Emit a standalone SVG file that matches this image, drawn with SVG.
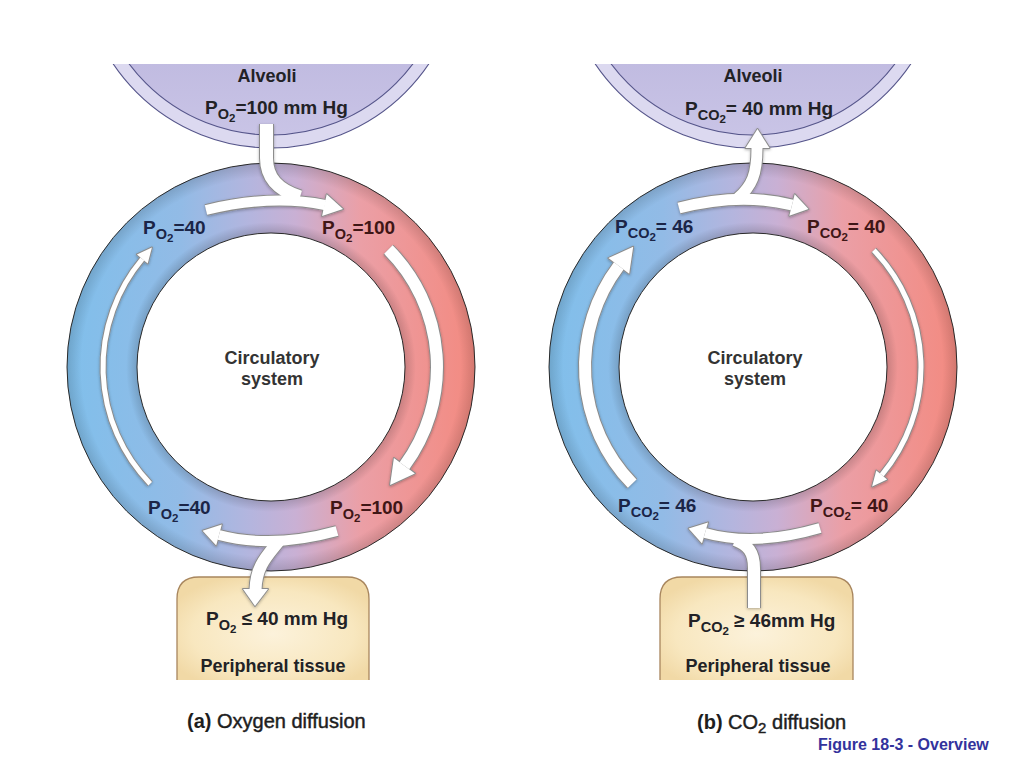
<svg xmlns="http://www.w3.org/2000/svg" xmlns:xlink="http://www.w3.org/1999/xlink" width="1024" height="768" viewBox="0 0 1024 768">
<defs>
<style>
text{font-family:"Liberation Sans",Arial,Helvetica,sans-serif;font-weight:bold;font-size:18px}
.lbl{font-size:19px}
.s1{font-size:14.5px}
.s2{font-size:11.5px}
.blue{fill:#1b2547}
.red{fill:#3f1616}
.dark{fill:#222226}
.mid{fill:#333333;text-anchor:middle}
.ring{fill:url(#ringGrad);stroke:#2e2e2e;stroke-width:1;fill-rule:evenodd}
.shade{fill:url(#ringShade);fill-rule:evenodd}
.alvOut{fill:#dcd9f0;stroke:#55558a;stroke-width:1.1}
.alvIn{fill:url(#alvGrad);stroke:#55558a;stroke-width:1.1}
.tissue{fill:url(#tisGrad)}
.tisEdge{fill:none;stroke:#a8865e;stroke-width:1.3}
.ol{fill:none;stroke:#8c8c8c;stroke-linecap:butt;stroke-linejoin:round}
.olh{fill:#8c8c8c;stroke:#8c8c8c;stroke-width:2;stroke-linejoin:round}
.wb{fill:none;stroke:#ffffff;stroke-linecap:butt;stroke-linejoin:round}
.wh{fill:#ffffff;stroke:none}
.cap{fill:#1e1e1e;font-size:20px}
.capn{font-weight:normal;stroke:#1e1e1e;stroke-width:0.45}
.fig{fill:#33339c;font-size:16px}
</style>
<linearGradient id="ringGrad" x1="0" y1="0" x2="1" y2="0">
<stop offset="0" stop-color="#80bfeb"/>
<stop offset="0.28" stop-color="#92bbe6"/>
<stop offset="0.45" stop-color="#b4b5de"/>
<stop offset="0.56" stop-color="#c9b0d4"/>
<stop offset="0.72" stop-color="#eb9fa6"/>
<stop offset="1" stop-color="#f38a80"/>
</linearGradient>
<radialGradient id="ringShade" cx="0.5" cy="0.5" r="0.5">
<stop offset="0.655" stop-color="#000" stop-opacity="0.16"/>
<stop offset="0.71" stop-color="#000" stop-opacity="0"/>
<stop offset="0.93" stop-color="#000" stop-opacity="0"/>
<stop offset="1" stop-color="#000" stop-opacity="0.14"/>
</radialGradient>
<linearGradient id="alvGrad" x1="0" y1="0" x2="0" y2="1">
<stop offset="0.6" stop-color="#b9b3dc"/>
<stop offset="1" stop-color="#c9c4e6"/>
</linearGradient>
<radialGradient id="tisGrad" cx="0.5" cy="0.55" r="0.6">
<stop offset="0" stop-color="#fcf2db"/>
<stop offset="0.7" stop-color="#f8e7bf"/>
<stop offset="1" stop-color="#f1d9a6"/>
</radialGradient>
<clipPath id="topClip"><rect x="0" y="64" width="1024" height="704"/></clipPath>
<filter id="shadow" x="-20%" y="-20%" width="140%" height="140%">
<feDropShadow dx="0" dy="1" stdDeviation="1.5" flood-color="#000" flood-opacity="0.3"/>
</filter>
</defs>
<rect x="0" y="0" width="1024" height="768" fill="#ffffff"/>

<!-- Diagram (a) -->
<g id="alveoli-a" clip-path="url(#topClip)">
<circle class="alvOut" cx="271" cy="-42" r="190"/>
<circle class="alvIn" cx="271" cy="-42" r="177"/>
<text class="dark" x="267" y="82" text-anchor="middle">Alveoli</text>
<text class="dark lbl" x="205" y="114">P<tspan class="s1" dy="5">O</tspan><tspan class="s2" dy="3">2</tspan><tspan dy="-8">=100 mm Hg</tspan></text>
</g>

<g id="ring-a">
<path class="ring" d="M67,367 A204,204 0 1 0 475,367 A204,204 0 1 0 67,367 Z M137,367 A134,134 0 1 0 405,367 A134,134 0 1 0 137,367 Z"/>
<path class="shade" d="M67,367 A204,204 0 1 0 475,367 A204,204 0 1 0 67,367 Z M137,367 A134,134 0 1 0 405,367 A134,134 0 1 0 137,367 Z"/>
<text class="mid" x="272" y="364">Circulatory</text>
<text class="mid" x="272" y="385">system</text>
<text class="blue lbl" x="143" y="234">P<tspan class="s1" dy="5">O</tspan><tspan class="s2" dy="3">2</tspan><tspan dy="-8">=40</tspan></text>
<text class="red lbl" x="322" y="234">P<tspan class="s1" dy="5">O</tspan><tspan class="s2" dy="3">2</tspan><tspan dy="-8">=100</tspan></text>
<text class="blue lbl" x="148" y="514">P<tspan class="s1" dy="5">O</tspan><tspan class="s2" dy="3">2</tspan><tspan dy="-8">=40</tspan></text>
<text class="red lbl" x="330" y="514">P<tspan class="s1" dy="5">O</tspan><tspan class="s2" dy="3">2</tspan><tspan dy="-8">=100</tspan></text>
</g>

<g id="tissue-a">
<path class="tissue" d="M177,680 L177,599 Q177,577 199,577 L347,577 Q369,577 369,599 L369,680 Z"/>
<path class="tisEdge" d="M177,680 L177,599 Q177,577 199,577 L347,577 Q369,577 369,599 L369,680"/>
<text class="dark lbl" x="206" y="625">P<tspan class="s1" dy="5">O</tspan><tspan class="s2" dy="3">2</tspan><tspan dy="-8"> ≤ 40 mm Hg</tspan></text>
<text class="dark" x="273" y="672" text-anchor="middle">Peripheral tissue</text>
</g>

<!-- Diagram (b) -->
<g id="alveoli-b" clip-path="url(#topClip)">
<circle class="alvOut" cx="753" cy="-42" r="190"/>
<circle class="alvIn" cx="753" cy="-42" r="177"/>
<text class="dark" x="753" y="82" text-anchor="middle">Alveoli</text>
<text class="dark lbl" x="685" y="115">P<tspan class="s1" dy="5">CO</tspan><tspan class="s2" dy="3">2</tspan><tspan dy="-8">= 40 mm Hg</tspan></text>
</g>

<g id="ring-b">
<path class="ring" d="M549,367 A204,204 0 1 0 957,367 A204,204 0 1 0 549,367 Z M619,367 A134,134 0 1 0 887,367 A134,134 0 1 0 619,367 Z"/>
<path class="shade" d="M549,367 A204,204 0 1 0 957,367 A204,204 0 1 0 549,367 Z M619,367 A134,134 0 1 0 887,367 A134,134 0 1 0 619,367 Z"/>
<text class="mid" x="755" y="364">Circulatory</text>
<text class="mid" x="755" y="385">system</text>
<text class="blue lbl" x="615" y="233">P<tspan class="s1" dy="5">CO</tspan><tspan class="s2" dy="3">2</tspan><tspan dy="-8">= 46</tspan></text>
<text class="red lbl" x="807" y="233">P<tspan class="s1" dy="5">CO</tspan><tspan class="s2" dy="3">2</tspan><tspan dy="-8">= 40</tspan></text>
<text class="blue lbl" x="618" y="512">P<tspan class="s1" dy="5">CO</tspan><tspan class="s2" dy="3">2</tspan><tspan dy="-8">= 46</tspan></text>
<text class="red lbl" x="810" y="512">P<tspan class="s1" dy="5">CO</tspan><tspan class="s2" dy="3">2</tspan><tspan dy="-8">= 40</tspan></text>
</g>

<g id="tissue-b">
<path class="tissue" d="M660,680 L660,599 Q660,577 682,577 L831,577 Q853,577 853,599 L853,680 Z"/>
<path class="tisEdge" d="M660,680 L660,599 Q660,577 682,577 L831,577 Q853,577 853,599 L853,680"/>
<text class="dark lbl" x="688" y="627">P<tspan class="s1" dy="5">CO</tspan><tspan class="s2" dy="3">2</tspan><tspan dy="-8"> ≥ 46mm Hg</tspan></text>
<text class="dark" x="758" y="672" text-anchor="middle">Peripheral tissue</text>
</g>

<!-- Connectors (arrows) -->
<g id="connectors">
<defs>
<path id="a1b" d="M206,210 Q272,194 325,205"/>
<path id="a1s" d="M266.5,124 L266.5,158 C266.5,178 278,190 300,197"/>
<polygon id="a1h" points="343,209 326.7,194.3 322.1,215.9"/>
<path id="a2b" d="M388.4,249.6 A166,166 0 0 1 404.4,465.7"/>
<polygon id="a2h" points="390.1,485 414.9,473.4 393.9,458"/>
<path id="a3b" d="M150.2,483.7 A168,168 0 0 1 142.3,259"/>
<polygon id="a3h" points="151.9,247.5 136.9,254.5 147.7,263.5"/>
<path id="a4b" d="M337,531 Q272,549 219,535"/>
<polygon id="a4h" points="202.6,530.7 221.8,524.4 216.2,545.6"/>
<path id="a4s" d="M279,541 C267,556 256,566 255.5,590"/>
<polygon id="a4sh" points="255,606 243,589 268,589"/>
<path id="b1b" d="M679,208 Q740,192 792,205"/>
<polygon id="b1h" points="808.5,209.1 794.7,194.3 789.3,215.7"/>
<path id="b1s" d="M738,198 C752,186 757,174 757,148"/>
<polygon id="b1sh" points="757.5,129 745.5,148 769.5,148"/>
<path id="b2b" d="M873.8,250.3 A168,168 0 0 1 881.7,475"/>
<polygon id="b2h" points="872.1,486.5 887.1,479.5 876.3,470.5"/>
<path id="b3b" d="M632.2,483.7 A168,168 0 0 1 618.8,265.9"/>
<polygon id="b3h" points="633.2,246.7 608.4,258.1 629.2,273.7"/>
<path id="b4b" d="M820,528 Q755,547 705,533"/>
<polygon id="b4h" points="688.6,528.4 708,522.4 702,543.6"/>
<path id="b4s" d="M754,608 L754,568 C754,552 748,545 735,540"/>
</defs>
<g id="arrows-a">
<g filter="url(#shadow)">
<use xlink:href="#a1b" class="ol" stroke-width="12"/>
<use xlink:href="#a1s" class="ol" stroke-width="15"/>
<use xlink:href="#a1h" class="olh"/>
<use xlink:href="#a2b" class="ol" stroke-width="14"/>
<use xlink:href="#a2h" class="olh"/>
<use xlink:href="#a3b" class="ol" stroke-width="7"/>
<use xlink:href="#a3h" class="olh"/>
<use xlink:href="#a4b" class="ol" stroke-width="12"/>
<use xlink:href="#a4h" class="olh"/>
<use xlink:href="#a4s" class="ol" stroke-width="14"/>
<use xlink:href="#a4sh" class="olh"/>
</g>
<use xlink:href="#a1b" class="wb" stroke-width="10"/>
<use xlink:href="#a1s" class="wb" stroke-width="13"/>
<use xlink:href="#a1h" class="wh"/>
<use xlink:href="#a2b" class="wb" stroke-width="12"/>
<use xlink:href="#a2h" class="wh"/>
<use xlink:href="#a3b" class="wb" stroke-width="5"/>
<use xlink:href="#a3h" class="wh"/>
<use xlink:href="#a4b" class="wb" stroke-width="10"/>
<use xlink:href="#a4h" class="wh"/>
<use xlink:href="#a4s" class="wb" stroke-width="12"/>
<use xlink:href="#a4sh" class="wh"/>
</g>
<g id="arrows-b">
<g filter="url(#shadow)">
<use xlink:href="#b1b" class="ol" stroke-width="13"/>
<use xlink:href="#b1h" class="olh"/>
<use xlink:href="#b1s" class="ol" stroke-width="13"/>
<use xlink:href="#b1sh" class="olh"/>
<use xlink:href="#b2b" class="ol" stroke-width="7"/>
<use xlink:href="#b2h" class="olh"/>
<use xlink:href="#b3b" class="ol" stroke-width="14"/>
<use xlink:href="#b3h" class="olh"/>
<use xlink:href="#b4b" class="ol" stroke-width="12"/>
<use xlink:href="#b4h" class="olh"/>
<use xlink:href="#b4s" class="ol" stroke-width="14"/>
</g>
<use xlink:href="#b1b" class="wb" stroke-width="11"/>
<use xlink:href="#b1h" class="wh"/>
<use xlink:href="#b1s" class="wb" stroke-width="11"/>
<use xlink:href="#b1sh" class="wh"/>
<use xlink:href="#b2b" class="wb" stroke-width="5"/>
<use xlink:href="#b2h" class="wh"/>
<use xlink:href="#b3b" class="wb" stroke-width="12"/>
<use xlink:href="#b3h" class="wh"/>
<use xlink:href="#b4b" class="wb" stroke-width="10"/>
<use xlink:href="#b4h" class="wh"/>
<use xlink:href="#b4s" class="wb" stroke-width="12"/>
</g>
</g>

<g id="captions">
<text class="cap" x="187" y="728">(a)<tspan class="capn"> Oxygen diffusion</tspan></text>
<text class="cap" x="697" y="729">(b)<tspan class="capn"> CO</tspan><tspan class="capn" font-size="15" dy="4">2</tspan><tspan class="capn" dy="-4"> diffusion</tspan></text>
<text class="fig" x="818" y="750">Figure 18-3 - Overview</text>
</g>
</svg>
